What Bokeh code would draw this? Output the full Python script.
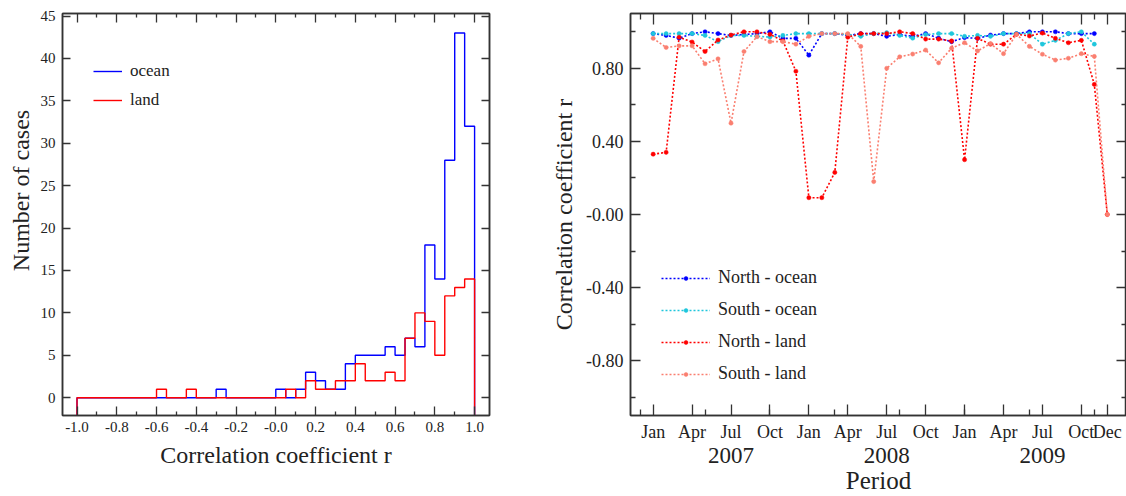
from bokeh.plotting import figure
from bokeh.layouts import row
from bokeh.models import (Range1d, FixedTicker, LinearAxis, Legend, LegendItem,
                          CustomJSTickFormatter)
from bokeh.embed import file_html
from bokeh.resources import INLINE

# ---------------- data: left histogram ----------------
bin_start = -1.0
bin_width = 0.05
ocean_counts = [0, 0, 0, 0, 0, 0, 0, 0, 0, 0,
                0, 0, 0, 0, 1, 0, 0, 0, 0, 0,
                1, 0, 1, 3, 2, 1, 1, 4, 5, 5,
                5, 6, 5, 7, 6, 18, 14, 28, 43, 32]
land_counts = [0, 0, 0, 0, 0, 0, 0, 0, 1, 0,
               0, 1, 0, 0, 0, 0, 0, 0, 0, 0,
               0, 1, 0, 2, 1, 1, 2, 2, 4, 2,
               2, 3, 2, 7, 10, 9, 5, 12, 13, 14]
hist_x_ticks = [-1.0, -0.8, -0.6, -0.4, -0.2, 0.0, 0.2, 0.4, 0.6, 0.8, 1.0]
hist_x_labels = ["-1.0", "-0.8", "-0.6", "-0.4", "-0.2", "-0.0", "0.2", "0.4", "0.6", "0.8", "1.0"]
hist_x_minor = [-0.9, -0.7, -0.5, -0.3, -0.1, 0.1, 0.3, 0.5, 0.7, 0.9]
hist_y_ticks = [0, 5, 10, 15, 20, 25, 30, 35, 40, 45]

# ---------------- data: right time series ----------------
months = list(range(36))  # Jan 2007 .. Dec 2009
nan = float("nan")
north_ocean = [0.99, 0.98, 0.965, 0.99, 1.0, 0.99, 0.98, 0.985, 0.99, 1.0, 0.964, 0.964,
               0.872, 0.99, 0.99, 0.98, 0.99, 0.99, 0.975, 0.985, 0.975, 0.99, 0.965, 0.946,
               0.968, 0.964, 0.982, 0.99, 0.99, 1.0, 1.0, 1.0, 0.99, 0.99, 0.99, nan]
south_ocean = [0.99, 0.99, 0.99, 0.99, 0.98, 0.946, 0.98, 0.98, 0.975, 0.971, 0.98, 0.99,
               0.99, 0.99, 0.99, 0.985, 0.975, 0.99, 0.995, 0.98, 0.965, 0.985, 0.99, 0.99,
               0.975, 0.98, 0.975, 0.99, 0.99, 0.99, 0.932, 0.953, 0.99, 1.0, 0.932, nan]
north_land = [0.33, 0.34, 0.97, 0.944, 0.892, 0.955, 0.982, 1.0, 1.0, 0.986, 0.95, 0.784,
              0.092, 0.092, 0.23, 0.97, 0.99, 0.99, 0.99, 1.0, 0.99, 0.96, 0.96, 0.95,
              0.30, 0.964, 0.932, 0.932, 0.986, 0.977, 0.993, 0.964, 0.94, 0.953, 0.712, 0.0]
south_land = [0.964, 0.914, 0.923, 0.923, 0.825, 0.852, 0.50, 0.892, 0.973, 0.946, 0.946, 0.932,
              0.975, 0.99, 0.99, 0.99, 0.92, 0.18, 0.80, 0.863, 0.878, 0.90, 0.83, 0.91,
              0.94, 0.895, 0.935, 0.88, 0.986, 0.92, 0.877, 0.845, 0.855, 0.88, 0.865, 0.0]
series_names = ["North - ocean", "South - ocean", "North - land", "South - land"]
series_colors = ["#0000ff", "#1fc6dc", "#ff0000", "#fa7f70"]
month_ticks = [0, 3, 6, 9, 12, 15, 18, 21, 24, 27, 30, 33, 35]
month_labels = ["Jan", "Apr", "Jul", "Oct", "Jan", "Apr", "Jul", "Oct",
                "Jan", "Apr", "Jul", "Oct", "Dec"]
month_minor = [-1, 4, 9, 14, 19, 24, 29, 34]
year_ticks = [6, 18, 30]
year_labels = ["2007", "2008", "2009"]
r_ticks = [-0.8, -0.4, 0.0, 0.4, 0.8]
r_labels = ["-0.80", "-0.40", "-0.00", "0.40", "0.80"]
r_minor = [-1.0, -0.6, -0.2, 0.2, 0.6, 1.0]

FONT = "Liberation Serif"
AX = "#333333"
TXT = "#222222"
NBSP = "\u00a0"
JS = """
for (let i = 0; i < tv.length; i++) {
  if (Math.abs(tv[i] - tick) < 1e-6) { return tl[i]; }
}
return "";
"""


def fmt(tv, tl):
    return CustomJSTickFormatter(args=dict(tv=tv, tl=tl), code=JS)


BLANK = CustomJSTickFormatter(code='return "";')


def style_axis(ax, size, tin, minor_in):
    ax.axis_line_color = AX
    ax.axis_line_width = 1.5
    ax.major_tick_line_color = AX
    ax.minor_tick_line_color = AX
    ax.major_tick_line_width = 1.3
    ax.minor_tick_line_width = 1.3
    ax.major_tick_in = tin
    ax.major_tick_out = 0
    ax.minor_tick_in = minor_in
    ax.minor_tick_out = 0
    ax.major_label_text_font = FONT
    ax.major_label_text_font_size = size
    ax.major_label_text_color = TXT
    ax.axis_label_text_font = FONT
    ax.axis_label_text_font_style = "normal"
    ax.axis_label_text_color = TXT


def mirror_axis(ticker, tin, minor_in):
    ax = LinearAxis(ticker=ticker, formatter=BLANK)
    style_axis(ax, "1px", tin, minor_in)
    ax.major_label_standoff = 0
    return ax


def step_xy(counts, start, width, base):
    xs = [start]
    ys = [base]
    for i, c in enumerate(counts):
        x0 = round(start + i * width, 4)
        x1 = round(start + (i + 1) * width, 4)
        xs += [x0, x1]
        ys += [c, c]
    xs.append(round(start + len(counts) * width, 4))
    ys.append(base)
    return xs, ys


# ---------------- left figure ----------------
y_lo = -2.1
p1 = figure(width=548, height=496, output_backend="svg", toolbar_location=None,
            x_range=Range1d(-1.073, 1.075), y_range=Range1d(y_lo, 45.3),
            min_border_left=62, min_border_right=59, min_border_top=13, min_border_bottom=80)
p1.xaxis.visible = False
p1.yaxis.visible = False
p1.grid.visible = False
p1.outline_line_color = AX
p1.outline_line_width = 1.5

tk_x1 = FixedTicker(ticks=hist_x_ticks, minor_ticks=hist_x_minor)
tk_y1 = FixedTicker(ticks=hist_y_ticks, minor_ticks=[])

xb = LinearAxis(ticker=tk_x1, formatter=fmt(hist_x_ticks, hist_x_labels))
style_axis(xb, "15px", 9, 4)
xb.major_label_standoff = 6
xb.axis_label = "Correlation coefficient r"
xb.axis_label_text_font_size = "24px"
xb.axis_label_standoff = 7
p1.add_layout(xb, "below")
p1.add_layout(mirror_axis(tk_x1, 9, 4), "above")

yl = LinearAxis(ticker=tk_y1)
style_axis(yl, "15px", 8, 0)
yl.major_label_standoff = 7
# leading no-break spaces lift the title slightly above the frame centre, as in the original
yl.axis_label = NBSP * 8 + "Number of cases"
yl.axis_label_text_font_size = "24px"
yl.axis_label_standoff = 4
p1.add_layout(yl, "left")
p1.add_layout(mirror_axis(tk_y1, 8, 0), "right")

ox, oy = step_xy(ocean_counts, bin_start, bin_width, y_lo)
lx, ly = step_xy(land_counts, bin_start, bin_width, y_lo)
r_ocean = p1.line(ox, oy, line_color="#0000ff", line_width=1.4)
r_land = p1.line(lx, ly, line_color="#ff0000", line_width=1.4)

leg1 = Legend(items=[LegendItem(label="ocean", renderers=[r_ocean]),
                     LegendItem(label="land", renderers=[r_land])],
              location=(31, 305), orientation="vertical")
leg1.background_fill_alpha = 0
leg1.border_line_color = None
leg1.padding = 0
leg1.margin = 0
leg1.spacing = 9
leg1.glyph_width = 29
leg1.glyph_height = 20
leg1.label_height = 20
leg1.label_standoff = 8
leg1.label_text_font = FONT
leg1.label_text_font_size = "17px"
leg1.label_text_color = TXT
p1.add_layout(leg1)

# ---------------- right figure ----------------
p2 = figure(width=578, height=496, output_backend="svg", toolbar_location=None,
            x_range=Range1d(-1.746, 36.48), y_range=Range1d(-1.1, 1.1),
            min_border_left=81, min_border_right=0, min_border_top=9, min_border_bottom=79)
p2.xaxis.visible = False
p2.yaxis.visible = False
p2.grid.visible = False
p2.outline_line_color = AX
p2.outline_line_width = 1.5

tk_m = FixedTicker(ticks=month_ticks, minor_ticks=month_minor)
tk_r = FixedTicker(ticks=r_ticks, minor_ticks=r_minor)

mb = LinearAxis(ticker=tk_m, formatter=fmt(month_ticks, month_labels))
style_axis(mb, "18px", 11, 6)
mb.major_label_standoff = 6
p2.add_layout(mb, "below")

yb = LinearAxis(ticker=FixedTicker(ticks=year_ticks, minor_ticks=[]),
                formatter=fmt(year_ticks, year_labels))
style_axis(yb, "23px", 0, 0)
yb.axis_line_color = None
yb.major_tick_line_color = None
yb.minor_tick_line_color = None
yb.major_label_standoff = 3
yb.axis_label = "Period"
yb.axis_label_text_font_size = "25px"
yb.axis_label_standoff = 1
p2.add_layout(yb, "below")
p2.add_layout(mirror_axis(tk_m, 11, 6), "above")

rl = LinearAxis(ticker=tk_r, formatter=fmt(r_ticks, r_labels))
style_axis(rl, "18px", 10, 5)
rl.major_label_standoff = 7
rl.axis_label = "Correlation coefficient r"
rl.axis_label_text_font_size = "24px"
rl.axis_label_standoff = 6
p2.add_layout(rl, "left")
p2.add_layout(mirror_axis(tk_r, 10, 5), "right")

items = []
for name, color, vals in zip(series_names, series_colors,
                             [north_ocean, south_ocean, north_land, south_land]):
    ln = p2.line(months, vals, line_color=color, line_width=1.6, line_dash="2 2")
    sc = p2.scatter(months, vals, marker="circle", size=4.2, fill_color=color,
                    line_color=color, line_width=0.5)
    items.append(LegendItem(label=name, renderers=[ln, sc]))

leg2 = Legend(items=items, location=(31, 31), orientation="vertical")
leg2.background_fill_alpha = 0
leg2.border_line_color = None
leg2.padding = 0
leg2.margin = 0
leg2.spacing = 11
leg2.glyph_width = 49
leg2.glyph_height = 10
leg2.label_height = 20
leg2.label_standoff = 8
leg2.label_text_font = FONT
leg2.label_text_font_size = "18px"
leg2.label_text_color = TXT
p2.add_layout(leg2)

layout = row(p1, p2)
open("out.html", "w").write(file_html(layout, INLINE))
